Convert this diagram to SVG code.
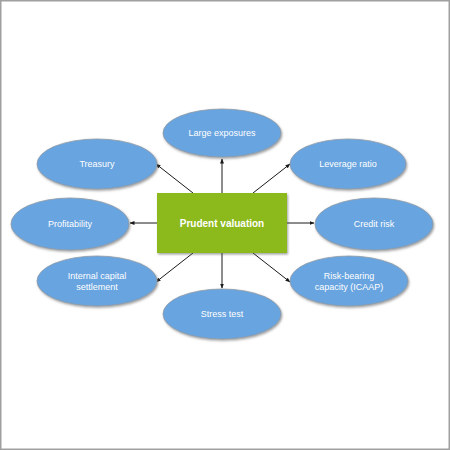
<svg xmlns="http://www.w3.org/2000/svg" width="450" height="450" viewBox="0 0 450 450">
  <style>
    .node ellipse { fill: #68a4df; stroke: #8f9aa6; stroke-width: 0.8; filter: url(#sh); }
    .hub rect { fill: #8cb91c; filter: url(#sh); }
    .lbl { font-family: "Liberation Sans", Arial, sans-serif; font-size: 9px; fill: #ffffff; text-anchor: middle; }
    .hubl { font-family: "Liberation Sans", Arial, sans-serif; font-size: 10px; font-weight: bold; fill: #ffffff; text-anchor: middle; }
    .conn line { stroke: #1a1a1a; stroke-width: 1; marker-end: url(#ah); }
  </style>
  <defs>
    <filter id="sh" x="-10%" y="-10%" width="125%" height="130%">
      <feDropShadow dx="1" dy="1.5" stdDeviation="1" flood-color="#555" flood-opacity="0.55"/>
    </filter>
    <marker id="ah" viewBox="0 0 10 10" refX="9" refY="5" markerWidth="5" markerHeight="5" orient="auto" markerUnits="userSpaceOnUse">
      <path d="M0,1 L10,5 L0,9 z" fill="#1a1a1a"/>
    </marker>
  </defs>
  <rect x="0.75" y="0.75" width="448.5" height="448.5" fill="#ffffff" stroke="#a0a0a0" stroke-width="1.5"/>

  <g id="connectors" class="conn">
    <line x1="222" y1="193" x2="222" y2="159"/>
    <line x1="193" y1="193" x2="156" y2="164"/>
    <line x1="253" y1="193" x2="290" y2="164"/>
    <line x1="157" y1="223" x2="130" y2="223"/>
    <line x1="287" y1="223" x2="314" y2="223"/>
    <line x1="222" y1="253" x2="222" y2="288"/>
    <line x1="193" y1="253" x2="156" y2="282"/>
    <line x1="253" y1="253" x2="290" y2="282"/>
  </g>

  <g id="large-exposures" class="node">
    <ellipse cx="222" cy="133" rx="59" ry="24"/>
    <text class="lbl" x="222" y="136">Large exposures</text>
  </g>
  <g id="treasury" class="node">
    <ellipse cx="97" cy="164" rx="60" ry="25"/>
    <text class="lbl" x="97" y="167">Treasury</text>
  </g>
  <g id="leverage-ratio" class="node">
    <ellipse cx="348" cy="164" rx="58" ry="25"/>
    <text class="lbl" x="348" y="167">Leverage ratio</text>
  </g>
  <g id="profitability" class="node">
    <ellipse cx="70" cy="224" rx="59" ry="26"/>
    <text class="lbl" x="70" y="227">Profitability</text>
  </g>
  <g id="credit-risk" class="node">
    <ellipse cx="374" cy="224" rx="59" ry="26"/>
    <text class="lbl" x="374" y="227">Credit risk</text>
  </g>
  <g id="internal-capital-settlement" class="node">
    <ellipse cx="97" cy="281" rx="60" ry="25"/>
    <text class="lbl" x="97" y="279">Internal capital</text>
    <text class="lbl" x="97" y="290">settlement</text>
  </g>
  <g id="risk-bearing-capacity" class="node">
    <ellipse cx="349" cy="281" rx="59" ry="25"/>
    <text class="lbl" x="349" y="279">Risk-bearing</text>
    <text class="lbl" x="349" y="290">capacity (ICAAP)</text>
  </g>
  <g id="stress-test" class="node">
    <ellipse cx="222" cy="314" rx="59" ry="25"/>
    <text class="lbl" x="222" y="317">Stress test</text>
  </g>

  <g id="prudent-valuation" class="hub">
    <rect x="157" y="193" width="130" height="60"/>
    <text class="hubl" x="222" y="227">Prudent valuation</text>
  </g>
</svg>
